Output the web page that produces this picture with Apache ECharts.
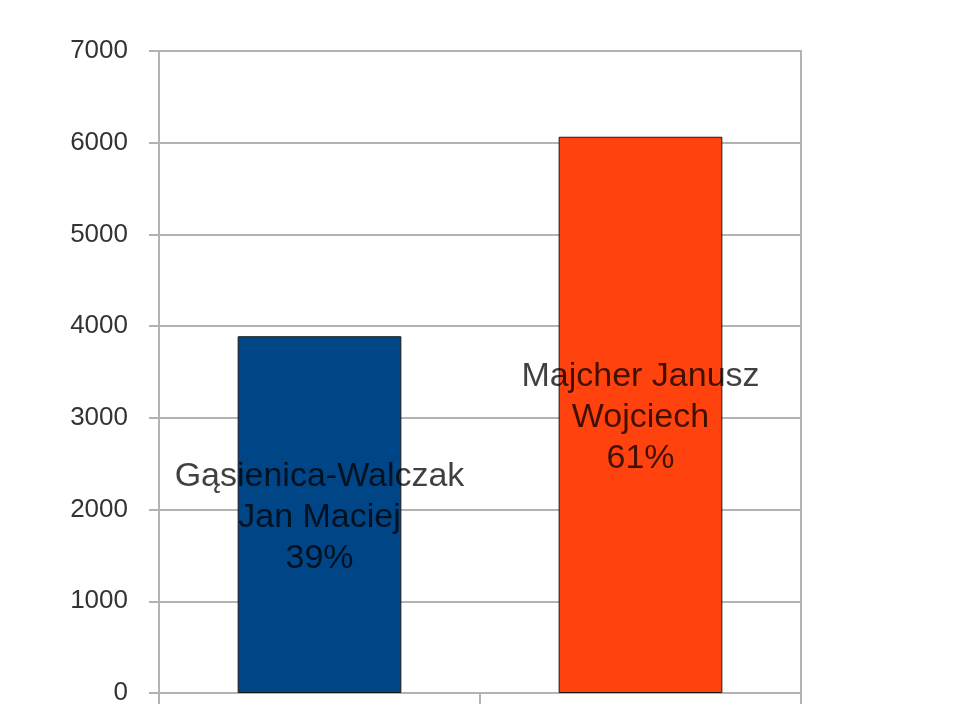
<!DOCTYPE html>
<html>
<head>
<meta charset="utf-8">
<script src="https://cdn.jsdelivr.net/npm/echarts@6/dist/echarts.min.js"></script>
<style>html,body{margin:0;padding:0;background:#fff;}#c{width:960px;height:720px;}</style>
</head>
<body>
<div id="c"></div>
<script>
var candidates = ["Gąsienica-Walczak\nJan Maciej", "Majcher Janusz\nWojciech"];
var votes = [3890, 6065];
var shares = ["39%", "61%"];
var barColors = ["#004586", "#ff420e"];
var yTicks = [0, 1000, 2000, 3000, 4000, 5000, 6000, 7000];

var chart = echarts.init(document.getElementById('c'), null, {renderer: 'canvas'});
var gridColor = '#b3b3b3';
chart.setOption({
  animation: false,
  backgroundColor: '#ffffff',
  grid: {left: 159, right: 159, top: 51, bottom: 27, show: true, borderColor: gridColor, borderWidth: 2, backgroundColor: 'transparent'},
  xAxis: {
    type: 'category',
    data: candidates,
    boundaryGap: true,
    axisLine: {show: true, lineStyle: {color: gridColor, width: 2}},
    axisTick: {show: true, length: 11, lineStyle: {color: gridColor, width: 2}},
    axisLabel: {show: false},
    splitLine: {show: false}
  },
  yAxis: {
    type: 'value',
    min: yTicks[0],
    max: yTicks[yTicks.length - 1],
    interval: 1000,
    axisLine: {show: true, lineStyle: {color: gridColor, width: 2}},
    axisTick: {show: true, length: 10, lineStyle: {color: gridColor, width: 2}},
    axisLabel: {color: '#333333', fontSize: 26, fontFamily: 'Liberation Sans, Arial, sans-serif', margin: 31,
      formatter: function (v) { return String(v); }},
    splitLine: {show: true, lineStyle: {color: gridColor, width: 2}}
  },
  series: [{
    type: 'bar',
    barWidth: '51%',
    data: votes.map(function (v, i) {
      return {value: v, itemStyle: {color: barColors[i], borderColor: '#1a1a1a', borderWidth: 1}};
    }),
    label: {
      show: true,
      position: 'inside',
      offset: [0, 3],
      color: 'rgba(0,0,0,0.75)',
      fontSize: 34,
      lineHeight: 41,
      fontFamily: 'Liberation Sans, Arial, sans-serif',
      formatter: function (p) { return candidates[p.dataIndex] + '\n' + shares[p.dataIndex]; }
    }
  }]
});
</script>
</body>
</html>
